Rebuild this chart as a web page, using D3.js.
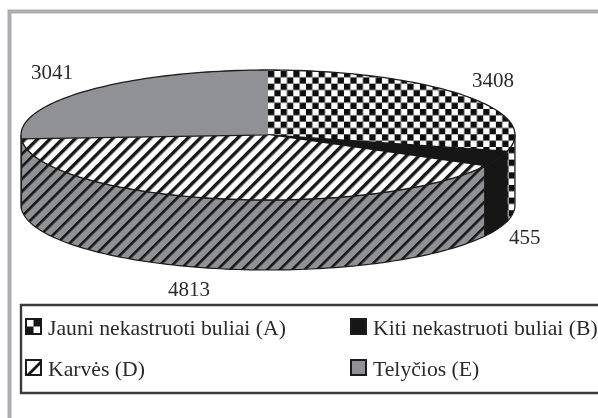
<!DOCTYPE html>
<html>
<head>
<meta charset="utf-8">
<script src="https://cdn.jsdelivr.net/npm/d3@7"></script>
<style>
  html, body { margin: 0; padding: 0; background: #fff; }
  text { font-family: "Liberation Serif", serif; fill: #2a2a2a; font-size: 21px; }
  .legend-item text { font-size: 21.7px; }
</style>
</head>
<body>
<div id="chart-area"></div>
<script>
// values, clockwise from 12 o'clock
const categories = ["Jauni nekastruoti buliai (A)", "Kiti nekastruoti buliai (B)", "Karvės (D)", "Telyčios (E)"]
const values = [3408, 455, 4813, 3041]

const WIDTH = 598
const HEIGHT = 418
const DEPTH = 70

const svg = d3.select("#chart-area").append("svg")
  .attr("width", WIDTH)
  .attr("height", HEIGHT)
  .style("display", "block")

const defs = svg.append("defs")

defs.append("filter").attr("id", "soft")
  .append("feGaussianBlur").attr("stdDeviation", 0.5)

// checker for A
const checker = defs.append("pattern")
  .attr("id", "checker")
  .attr("patternUnits", "userSpaceOnUse")
  .attr("width", 12.66).attr("height", 12.66)
  .attr("x", 268).attr("y", 71)
checker.append("rect").attr("width", 12.66).attr("height", 12.66).attr("fill", "#fff")
checker.append("rect").attr("width", 6.33).attr("height", 6.33).attr("fill", "#111")
checker.append("rect").attr("x", 6.33).attr("y", 6.33).attr("width", 6.33).attr("height", 6.33).attr("fill", "#111")

// diagonal stripes, white for the top of D and grey for its side
function hatch(id, bg, lineW) {
  const p = defs.append("pattern")
    .attr("id", id)
    .attr("patternUnits", "userSpaceOnUse")
    .attr("width", 8.8).attr("height", 8.8)
    .attr("patternTransform", "rotate(45)")
  p.append("rect").attr("width", 8.8).attr("height", 8.8).attr("fill", bg)
  p.append("rect").attr("width", lineW).attr("height", 8.8).attr("fill", "#161616")
}
hatch("hatchTop", "#fff", 3.4)
hatch("hatchSide", "#8f9195", 2.6)

const topFill = ["url(#checker)", "#161616", "url(#hatchTop)", "#8f9195"]
const sideFill = ["url(#checker)", "#161616", "url(#hatchSide)", "#8f9195"]

const x = d3.scaleLinear().domain([-1, 1]).range([21, 515])
const y = d3.scaleLinear().domain([-1, 1]).range([70, 200])

const pie = d3.pie().sort(null)
const slices = pie(values)

const line = d3.line().x(d => d[0]).y(d => d[1])

function rim(a0, a1, dy) {
  const n = Math.max(2, Math.ceil((a1 - a0) * 40))
  return d3.range(n + 1).map(i => {
    const a = a0 + (a1 - a0) * i / n
    return [x(Math.sin(a)), y(-Math.cos(a)) + dy]
  })
}

// frame
const root = svg.append("g").attr("filter", "url(#soft)")
root.append("path")
  .attr("d", `M9.5,${HEIGHT + 5} V11.5 H${WIDTH + 5}`)
  .attr("fill", "none")
  .attr("stroke", "#abadaf")
  .attr("stroke-width", 4)

// side walls, only the front half shows
const g = root.append("g")
slices.forEach((d, i) => {
  const a0 = Math.max(d.startAngle, Math.PI / 2)
  const a1 = Math.min(d.endAngle, Math.PI * 1.5)
  if (a1 <= a0) return
  const pts = rim(a0, a1, 0).concat(rim(a0, a1, DEPTH).reverse())
  g.append("path")
    .attr("d", line(pts) + "Z")
    .attr("fill", sideFill[i])
    .attr("stroke", "#1c1c1c")
    .attr("stroke-width", 1.2)
})

// top of the pie
slices.forEach((d, i) => {
  const pts = [[x(0), y(0)]].concat(rim(d.startAngle, d.endAngle, 0))
  g.append("path")
    .attr("d", line(pts) + "Z")
    .attr("fill", topFill[i])
    .attr("stroke", i === 1 ? "#161616" : "none")
    .attr("stroke-width", 1.5)
})
g.append("path")
  .attr("d", line(rim(0, Math.PI * 2, 0)) + "Z")
  .attr("fill", "none")
  .attr("stroke", "#1c1c1c")
  .attr("stroke-width", 1.3)
g.append("path")
  .attr("d", line([[x(0), y(0)], rim(slices[2].endAngle, slices[2].endAngle, 0)[0]]))
  .attr("fill", "none")
  .attr("stroke", "#1c1c1c")
  .attr("stroke-width", 1.2)

// value labels
root.append("text").attr("x", 31).attr("y", 79).text(values[3])
root.append("text").attr("x", 472).attr("y", 87).text(values[0])
root.append("text").attr("x", 509).attr("y", 244).text(values[1])
root.append("text").attr("x", 168).attr("y", 296).text(values[2])

// legend
root.append("path")
  .attr("d", `M${WIDTH + 5},305 H21 V393 H${WIDTH + 5}`)
  .attr("fill", "none")
  .attr("stroke", "#3a3a3a")
  .attr("stroke-width", 2.4)

const legendX = d3.scaleOrdinal().domain([0, 1, 2, 3]).range([26, 351, 26, 351])
const legendY = d3.scaleOrdinal().domain([0, 1, 2, 3]).range([319, 319, 360, 360])
const SW = 15

const legend = root.selectAll(".legend-item")
  .data(categories)
  .enter().append("g")
  .attr("class", "legend-item")
  .attr("transform", (d, i) => `translate(${legendX(i)}, ${legendY(i)})`)

legend.append("rect")
  .attr("width", SW).attr("height", SW)
  .attr("fill", (d, i) => ["#fff", "#161616", "#fff", "#8f9195"][i])
  .attr("stroke", "#1c1c1c")
  .attr("stroke-width", 2)

// little marks inside the A and D swatches
legend.filter((d, i) => i === 0).append("path")
  .attr("d", `M0,${SW / 2} H${SW / 2} V${SW} H0Z M${SW / 2},0 H${SW} V${SW / 2} H${SW / 2}Z`)
  .attr("fill", "#161616")
legend.filter((d, i) => i === 2).append("path")
  .attr("d", `M0,${SW} L${SW},0 V4 L4,${SW}Z`)
  .attr("fill", "#161616")

legend.append("text")
  .attr("x", 22)
  .attr("y", 16)
  .text(d => d)
</script>
</body>
</html>
